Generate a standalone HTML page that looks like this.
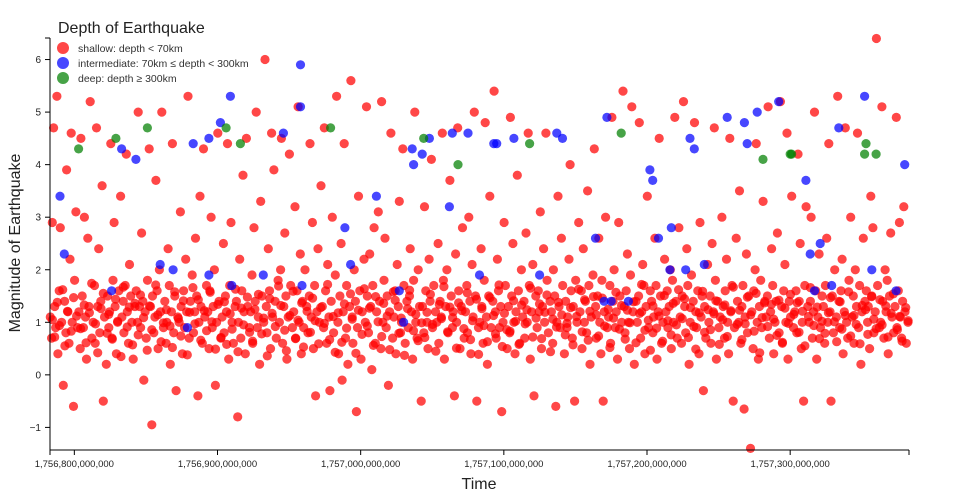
<!DOCTYPE html>
<html><head><meta charset="utf-8"><style>
body{margin:0;background:#fff;font-family:"Liberation Sans",sans-serif}
svg{display:block}
text{font-family:"Liberation Sans",sans-serif}
</style></head><body>
<svg id="chart" width="960" height="500" viewBox="0 0 960 500">
<g id="plot"></g>
<g id="axes"></g>
<text x="58" y="33" font-size="16" fill="#222">Depth of Earthquake</text>
<g><circle cx="63" cy="48" r="6" fill="#ff3333" fill-opacity="0.9"/><text x="78" y="52" font-size="10.5" fill="#333">shallow: depth &lt; 70km</text></g>
<g><circle cx="63" cy="63" r="6" fill="#3333ff" fill-opacity="0.9"/><text x="78" y="67" font-size="10.5" fill="#333">intermediate: 70km ≤ depth &lt; 300km</text></g>
<g><circle cx="63" cy="78" r="6" fill="#339933" fill-opacity="0.9"/><text x="78" y="82" font-size="10.5" fill="#333">deep: depth ≥ 300km</text></g>
<text x="479" y="489" font-size="16" text-anchor="middle" fill="#222">Time</text>
<text transform="translate(20,243) rotate(-90)" font-size="16" text-anchor="middle" fill="#222">Magnitude of Earthquake</text>
</svg>
<script>
// times are in units of 1e9 ms, offset from 1,756,000,000,000,000 ms
const xTicks = [800, 900, 1000, 1100, 1200, 1300];
const xTickLabels = ["1,756,800,000,000","1,756,900,000,000","1,757,000,000,000","1,757,100,000,000","1,757,200,000,000","1,757,300,000,000"];
const yTicks = [-1,0,1,2,3,4,5,6];
const shallowTime = [
783.2,784.1,784.6,785.5,786.3,787,787.8,788.5,789.4,790.2,791.1,792.3,
793.2,794.1,794.6,795.5,796.3,797,797.8,798.5,799.4,800.2,801.1,802.3,
803.2,804.1,804.6,805.5,806.3,807,807.8,808.5,809.4,810.2,811.1,812.3,
813.2,814.1,814.6,815.5,816.3,817,817.8,818.5,819.4,820.2,821.1,822.3,
823.2,824.1,824.6,825.5,826.3,827,827.8,828.5,829.4,830.2,831.1,832.3,
833.2,834.1,834.6,835.5,836.3,837,837.8,838.5,839.4,840.2,841.1,842.3,
843.2,844.1,844.6,845.5,846.3,847,847.8,848.5,849.4,850.2,851.1,852.3,
853.2,854.1,854.6,855.5,856.3,857,857.8,858.5,859.4,860.2,861.1,862.3,
863.2,864.1,864.6,865.5,866.3,867,867.8,868.5,869.4,870.2,871.1,872.3,
873.2,874.1,874.6,875.5,876.3,877,877.8,878.5,879.4,880.2,881.1,882.3,
883.2,884.1,884.6,885.5,886.3,887,887.8,888.5,889.4,890.2,891.1,892.3,
893.2,894.1,894.6,895.5,896.3,897,897.8,898.5,899.4,900.2,901.1,902.3,
903.2,904.1,904.6,905.5,906.3,907,907.8,908.5,909.4,910.2,911.1,912.3,
913.2,914.1,914.6,915.5,916.3,917,917.8,918.5,919.4,920.2,921.1,922.3,
923.2,924.1,924.6,925.5,926.3,927,927.8,928.5,929.4,930.2,931.1,932.3,
933.2,934.1,934.6,935.5,936.3,937,937.8,938.5,939.4,940.2,941.1,942.3,
943.2,944.1,944.6,945.5,946.3,947,947.8,948.5,949.4,950.2,951.1,952.3,
953.2,954.1,954.6,955.5,956.3,957,957.8,958.5,959.4,960.2,961.1,962.3,
963.2,964.1,964.6,965.5,966.3,967,967.8,968.5,969.4,970.2,971.1,972.3,
973.2,974.1,974.6,975.5,976.3,977,977.8,978.5,979.4,980.2,981.1,982.3,
983.2,984.1,984.6,985.5,986.3,987,987.8,988.5,989.4,990.2,991.1,992.3,
993.2,994.1,994.6,995.5,996.3,997,997.8,998.5,999.4,1000.2,1001.1,1002.3,
1003.2,1004.1,1004.6,1005.5,1006.3,1007,1007.8,1008.5,1009.4,1010.2,1011.1,1012.3,
1013.2,1014.1,1014.6,1015.5,1016.3,1017,1017.8,1018.5,1019.4,1020.2,1021.1,1022.3,
1023.2,1024.1,1024.6,1025.5,1026.3,1027,1027.8,1028.5,1029.4,1030.2,1031.1,1032.3,
1033.2,1034.1,1034.6,1035.5,1036.3,1037,1037.8,1038.5,1039.4,1040.2,1041.1,1042.3,
1043.2,1044.1,1044.6,1045.5,1046.3,1047,1047.8,1048.5,1049.4,1050.2,1051.1,1052.3,
1053.2,1054.1,1054.6,1055.5,1056.3,1057,1057.8,1058.5,1059.4,1060.2,1061.1,1062.3,
1063.2,1064.1,1064.6,1065.5,1066.3,1067,1067.8,1068.5,1069.4,1070.2,1071.1,1072.3,
1073.2,1074.1,1074.6,1075.5,1076.3,1077,1077.8,1078.5,1079.4,1080.2,1081.1,1082.3,
1083.2,1084.1,1084.6,1085.5,1086.3,1087,1087.8,1088.5,1089.4,1090.2,1091.1,1092.3,
1093.2,1094.1,1094.6,1095.5,1096.3,1097,1097.8,1098.5,1099.4,1100.2,1101.1,1102.3,
1103.2,1104.1,1104.6,1105.5,1106.3,1107,1107.8,1108.5,1109.4,1110.2,1111.1,1112.3,
1113.2,1114.1,1114.6,1115.5,1116.3,1117,1117.8,1118.5,1119.4,1120.2,1121.1,1122.3,
1123.2,1124.1,1124.6,1125.5,1126.3,1127,1127.8,1128.5,1129.4,1130.2,1131.1,1132.3,
1133.2,1134.1,1134.6,1135.5,1136.3,1137,1137.8,1138.5,1139.4,1140.2,1141.1,1142.3,
1143.2,1144.1,1144.6,1145.5,1146.3,1147,1147.8,1148.5,1149.4,1150.2,1151.1,1152.3,
1153.2,1154.1,1154.6,1155.5,1156.3,1157,1157.8,1158.5,1159.4,1160.2,1161.1,1162.3,
1163.2,1164.1,1164.6,1165.5,1166.3,1167,1167.8,1168.5,1169.4,1170.2,1171.1,1172.3,
1173.2,1174.1,1174.6,1175.5,1176.3,1177,1177.8,1178.5,1179.4,1180.2,1181.1,1182.3,
1183.2,1184.1,1184.6,1185.5,1186.3,1187,1187.8,1188.5,1189.4,1190.2,1191.1,1192.3,
1193.2,1194.1,1194.6,1195.5,1196.3,1197,1197.8,1198.5,1199.4,1200.2,1201.1,1202.3,
1203.2,1204.1,1204.6,1205.5,1206.3,1207,1207.8,1208.5,1209.4,1210.2,1211.1,1212.3,
1213.2,1214.1,1214.6,1215.5,1216.3,1217,1217.8,1218.5,1219.4,1220.2,1221.1,1222.3,
1223.2,1224.1,1224.6,1225.5,1226.3,1227,1227.8,1228.5,1229.4,1230.2,1231.1,1232.3,
1233.2,1234.1,1234.6,1235.5,1236.3,1237,1237.8,1238.5,1239.4,1240.2,1241.1,1242.3,
1243.2,1244.1,1244.6,1245.5,1246.3,1247,1247.8,1248.5,1249.4,1250.2,1251.1,1252.3,
1253.2,1254.1,1254.6,1255.5,1256.3,1257,1257.8,1258.5,1259.4,1260.2,1261.1,1262.3,
1263.2,1264.1,1264.6,1265.5,1266.3,1267,1267.8,1268.5,1269.4,1270.2,1271.1,1272.3,
1273.2,1274.1,1274.6,1275.5,1276.3,1277,1277.8,1278.5,1279.4,1280.2,1281.1,1282.3,
1283.2,1284.1,1284.6,1285.5,1286.3,1287,1287.8,1288.5,1289.4,1290.2,1291.1,1292.3,
1293.2,1294.1,1294.6,1295.5,1296.3,1297,1297.8,1298.5,1299.4,1300.2,1301.1,1302.3,
1303.2,1304.1,1304.6,1305.5,1306.3,1307,1307.8,1308.5,1309.4,1310.2,1311.1,1312.3,
1313.2,1314.1,1314.6,1315.5,1316.3,1317,1317.8,1318.5,1319.4,1320.2,1321.1,1322.3,
1323.2,1324.1,1324.6,1325.5,1326.3,1327,1327.8,1328.5,1329.4,1330.2,1331.1,1332.3,
1333.2,1334.1,1334.6,1335.5,1336.3,1337,1337.8,1338.5,1339.4,1340.2,1341.1,1342.3,
1343.2,1344.1,1344.6,1345.5,1346.3,1347,1347.8,1348.5,1349.4,1350.2,1351.1,1352.3,
1353.2,1354.1,1354.6,1355.5,1356.3,1357,1357.8,1358.5,1359.4,1360.2,1361.1,1362.3,
1363.2,1364.1,1364.6,1365.5,1366.3,1367,1367.8,1368.5,1369.4,1370.2,1371.1,1372.3,
1373.2,1374.1,1374.6,1375.5,1376.3,1377,1377.8,1378.5,1379.4,1380.2,1381.1,1382.3,
784.7,786.3,788.1,789.6,791.9,793.4,795.2,797.8,799.5,801.6,
804.4,806.9,808.2,810.5,812.1,814.8,816.3,818.6,820.2,822.9,
824.1,826.5,828.8,830.3,832.6,834.2,836.9,838.4,840.7,842.3,
844.6,846.2,848.4,850.9,852.5,854.1,856.8,858.3,860.6,862.2,
864.3,866.8,868.5,870.1,872.7,874.4,876.2,878.9,880.5,882.8,
884.2,886.6,888.3,890.8,892.4,894.9,896.1,898.6,900.3,902.5,
904.8,906.4,908.9,910.2,912.6,914.3,916.7,918.2,920.9,922.4,
924.5,926.1,928.6,930.9,932.3,934.8,936.5,938.1,940.4,942.7,
944.2,946.9,948.1,950.6,952.8,954.5,956.2,958.8,960.1,962.6,
964.9,966.4,968.2,970.7,972.1,974.6,976.9,978.3,980.8,982.2,
984.3,986.8,988.6,990.2,992.9,994.1,996.7,998.4,1000.9,1002.5,
1004.6,1006.2,1008.9,1010.4,1012.2,1014.7,1016.1,1018.5,1020.3,1022.8,
1024.1,1026.7,1028.3,1030.6,1032.8,1034.2,1036.9,1038.5,1040.1,1042.6,
1044.8,1046.3,1048.7,1050.2,1052.5,1054.9,1056.4,1058.1,1060.7,1062.3,
1064.2,1066.9,1068.4,1070.8,1072.1,1074.5,1076.7,1078.2,1080.9,1082.4,
1084.7,1086.1,1088.5,1090.3,1092.8,1094.2,1096.6,1098.9,1100.4,1102.1,
1104.3,1106.8,1108.2,1110.6,1112.4,1114.9,1116.1,1118.7,1120.2,1122.5,
1124.9,1126.4,1128.7,1130.1,1132.6,1134.3,1136.8,1138.2,1140.5,1142.9,
1144.1,1146.6,1148.3,1150.8,1152.2,1154.7,1156.4,1158.9,1160.1,1162.6,
1164.5,1166.2,1168.8,1170.4,1172.9,1174.1,1176.6,1178.3,1180.7,1182.2,
1184.8,1186.3,1188.1,1190.6,1192.3,1194.8,1196.2,1198.5,1200.9,1202.4,
1204.2,1206.7,1208.4,1210.9,1212.1,1214.6,1216.8,1218.3,1220.5,1222.1,
1224.6,1226.2,1228.9,1230.4,1232.7,1234.1,1236.5,1238.8,1240.2,1242.7,
1244.3,1246.8,1248.1,1250.5,1252.9,1254.4,1256.1,1258.6,1260.3,1262.9,
1264.7,1266.3,1268.6,1270.1,1272.4,1274.8,1276.2,1278.7,1280.4,1282.1,
1284.2,1286.9,1288.4,1290.7,1292.1,1294.6,1296.3,1298.8,1300.2,1302.6,
1304.9,1306.2,1308.6,1310.3,1312.8,1314.1,1316.5,1318.9,1320.4,1322.2,
1324.3,1326.7,1328.2,1330.8,1332.5,1334.9,1336.1,1338.6,1340.8,1342.3,
1344.6,1346.1,1348.8,1350.3,1352.6,1354.2,1356.9,1358.4,1360.1,1362.7,
1364.2,1366.8,1368.3,1370.6,1372.1,1374.9,1376.4,1378.2,1380.7,1382.4
];
const shallowMag = [
1.1,0.7,2.9,4.7,1.3,0.9,5.3,0.4,1.6,2.8,1.0,-0.2,
1.4,0.8,3.9,1.2,0.6,2.2,4.6,1.0,-0.6,1.8,3.1,0.9,
1.2,0.5,4.5,1.5,0.9,3.0,1.1,0.3,2.6,1.3,5.2,0.7,
1.0,1.7,0.6,4.7,1.3,2.4,0.8,1.4,3.6,-0.5,1.1,0.2,
1.5,0.9,1.2,4.4,0.7,1.8,2.9,1.3,0.4,1.0,1.6,3.4,
1.1,1.4,0.8,1.7,4.2,1.2,0.6,2.1,1.5,1.0,0.3,1.3,
1.6,1.0,5.0,1.3,0.9,2.7,1.4,-0.1,1.2,0.7,1.8,4.3,
1.3,-0.95,1.5,0.8,1.1,3.7,1.6,0.5,2.0,1.2,5.0,0.9,
1.4,0.6,1.0,2.4,1.7,0.2,1.2,4.4,0.8,1.5,-0.3,1.1,
1.0,3.1,1.3,0.4,1.6,0.9,2.2,1.2,5.3,0.7,1.4,1.9,
0.8,1.2,2.6,1.5,-0.4,1.0,3.4,1.3,0.6,4.3,1.1,1.7,
1.2,0.5,1.6,3.0,0.9,1.3,2.0,-0.2,1.0,4.6,1.4,0.7,
1.1,2.5,0.8,1.5,1.2,4.4,0.3,1.7,2.9,1.0,0.6,1.3,
1.4,-0.8,1.0,2.2,0.7,1.6,3.8,1.2,0.4,4.5,1.3,0.9,
1.2,1.9,0.6,2.8,1.4,5.0,0.9,1.1,0.2,3.3,1.5,1.0,
6.0,1.3,0.8,2.4,1.6,0.5,4.6,1.1,3.9,1.4,0.7,1.8,
1.0,2.0,4.5,0.6,1.3,2.7,1.5,0.3,1.1,4.2,1.7,0.9,
1.2,3.2,0.7,1.6,5.1,1.0,2.3,0.4,1.4,0.9,2.0,1.3,
0.8,1.5,4.4,1.1,2.9,0.5,1.7,-0.4,1.2,2.4,1.0,3.6,
1.3,0.9,4.7,1.6,0.6,2.1,1.1,-0.3,1.4,3.0,0.8,1.9,
5.3,1.0,0.4,1.5,2.5,-0.1,1.2,4.4,0.7,1.7,0.2,1.3,
5.6,1.1,0.6,2.0,1.4,-0.7,0.9,3.4,1.6,0.3,1.2,2.2,
1.0,5.1,1.5,0.8,2.3,1.3,0.1,1.7,2.8,0.6,1.2,3.1,
1.4,0.5,5.2,1.0,1.8,2.6,0.9,1.5,-0.2,1.2,4.6,0.7,
1.1,1.6,0.4,2.1,1.3,3.3,0.8,1.0,4.3,1.7,0.6,1.4,
0.9,1.5,2.4,1.2,0.3,1.8,5.0,1.0,0.7,2.0,1.3,-0.5,
1.3,0.8,3.2,1.6,1.0,0.5,2.2,1.4,4.1,0.9,1.7,1.2,
1.0,2.5,0.6,1.4,1.1,4.6,1.8,0.3,1.3,2.0,0.8,3.7,
1.5,0.9,1.2,-0.4,2.3,1.0,4.7,1.6,0.5,1.3,2.8,0.7,
1.2,1.7,0.8,3.0,1.4,0.4,2.1,1.1,5.0,1.5,-0.5,0.9,
1.0,2.4,1.3,0.6,1.8,4.8,1.1,0.2,1.5,3.4,0.9,1.4,
5.4,1.2,0.7,2.2,1.6,0.9,1.3,-0.7,1.0,2.9,1.7,0.5,
1.3,0.8,4.9,1.5,2.5,1.0,0.4,1.2,3.8,1.6,0.6,2.0,
1.1,1.4,0.7,2.7,1.0,4.6,1.7,0.3,1.2,2.1,-0.4,1.5,
0.9,1.6,1.2,3.1,0.5,1.3,2.4,1.0,4.6,1.8,0.8,1.4,
1.2,0.6,2.0,1.5,-0.6,1.0,3.4,1.3,0.9,2.6,1.7,0.4,
1.4,0.9,1.1,2.2,4.0,1.6,0.7,1.3,-0.5,1.8,1.0,2.9,
1.2,1.6,0.5,2.4,1.0,1.4,0.8,3.5,1.7,0.2,1.1,1.9,
4.3,1.3,0.7,1.5,2.6,1.0,0.4,1.8,-0.5,1.2,3.0,0.9,
1.1,1.7,0.6,4.9,1.4,2.0,0.9,1.2,0.3,2.9,1.5,1.0,
5.4,1.3,0.8,1.6,2.3,1.0,0.5,1.9,5.1,1.2,0.2,1.4,
1.0,1.5,4.8,0.7,1.2,2.1,1.7,0.4,1.3,3.4,0.9,1.6,
1.4,0.8,1.1,2.6,1.7,0.3,1.2,4.5,1.5,0.6,1.0,2.2,
1.2,1.6,0.9,1.3,2.0,0.5,1.8,1.0,4.9,1.4,0.7,2.8,
1.1,0.6,1.5,5.2,1.3,0.8,2.4,1.7,0.2,1.0,1.9,1.4,
4.8,1.2,0.9,1.6,0.4,2.9,1.1,1.5,-0.3,1.3,0.7,2.1,
1.0,1.5,0.6,2.5,1.2,4.7,1.8,0.3,1.4,0.9,1.1,3.0,
1.3,0.7,1.6,2.2,1.0,0.4,4.5,1.2,1.7,-0.5,0.9,2.6,
1.4,1.0,3.5,0.6,1.3,1.7,-0.65,1.1,2.3,0.8,1.5,-1.4,
1.2,0.5,1.6,2.0,4.4,1.0,0.3,1.3,1.8,0.9,3.3,1.4,
1.1,1.5,5.1,0.7,1.2,2.4,1.7,0.4,1.0,1.4,2.7,0.8,
5.2,1.3,0.6,1.6,2.1,1.0,4.6,0.3,1.4,1.1,3.4,0.9,
1.2,1.6,0.8,4.2,1.4,2.5,0.5,1.0,-0.5,1.7,3.2,1.3,
1.0,1.4,3.0,0.7,1.2,5.0,1.6,0.3,1.1,2.3,0.9,1.5,
1.3,0.6,1.7,2.6,1.0,4.4,1.2,-0.5,1.5,0.8,2.0,1.1,
5.3,1.4,0.9,1.6,2.2,0.4,1.2,4.7,1.0,0.7,1.8,3.0,
1.1,1.5,0.6,2.0,1.3,4.6,0.9,1.7,0.2,1.2,2.6,1.4,
1.6,1.0,1.3,0.5,3.4,1.5,2.8,0.8,1.2,6.4,1.7,0.9,
1.0,5.1,1.4,0.7,2.0,1.2,1.8,0.4,1.5,2.7,1.1,0.8,
1.3,4.9,0.9,1.6,2.9,1.1,0.7,1.4,3.2,1.2,0.6,1.0,
1.05,0.72,1.38,0.94,1.62,0.55,1.21,0.83,1.47,1.12,
0.88,1.33,0.61,1.18,1.74,0.97,0.42,1.26,1.55,0.79,
1.15,0.68,1.44,1.02,0.35,1.67,0.91,1.29,0.57,1.36,
0.76,1.52,1.09,0.47,1.31,0.86,1.71,1.14,0.63,0.99,
1.24,0.93,0.52,1.58,1.07,0.74,1.41,0.38,1.19,1.66,
0.97,1.43,0.66,1.22,0.84,1.57,1.01,0.49,1.34,0.71,
1.39,0.58,1.16,0.87,1.63,0.44,1.27,0.95,1.48,0.81,
0.64,1.25,1.53,0.78,1.08,0.36,1.45,1.17,0.92,1.69,
1.32,0.85,0.46,1.13,1.59,0.69,1.04,1.37,0.53,1.21,
0.81,1.46,1.03,0.59,1.28,0.98,1.72,0.67,1.11,0.43,
1.18,0.62,1.35,0.89,1.54,1.06,0.41,1.23,0.77,1.64,
0.93,1.27,0.56,1.49,1.01,0.73,1.36,1.12,0.48,1.58,
1.42,0.79,1.08,0.37,1.26,1.61,0.84,1.15,0.65,0.99,
0.71,1.19,1.53,0.96,0.45,1.34,1.07,1.68,0.82,1.29,
1.09,0.51,1.37,1.22,0.88,1.56,0.67,1.03,1.44,0.39,
1.26,0.94,0.63,1.47,1.13,0.78,1.71,0.54,1.17,0.86,
0.83,1.41,1.02,0.58,1.33,0.97,1.24,1.65,0.72,1.08,
1.35,0.69,1.19,1.52,0.44,1.06,0.91,1.38,1.14,0.76,
0.98,1.28,0.57,1.11,1.63,0.82,1.43,0.66,1.21,1.49,
1.14,0.74,1.46,0.93,1.25,0.52,1.08,1.57,0.87,1.32,
0.68,1.23,0.99,1.39,0.61,1.17,1.72,0.85,1.04,0.47,
1.31,0.89,1.12,0.64,1.51,1.03,0.76,1.36,0.95,1.62,
1.07,1.45,0.71,1.28,0.92,0.49,1.18,1.59,0.81,1.24,
0.86,1.16,1.41,0.58,1.05,1.33,0.73,1.22,1.67,0.96,
1.23,0.67,0.97,1.48,1.14,0.83,1.55,0.42,1.09,1.37,
0.92,1.34,1.06,0.75,1.42,0.62,1.27,0.98,1.53,1.15,
1.37,0.81,1.21,0.55,1.11,1.66,0.94,1.29,0.69,1.02,
0.79,1.18,1.47,1.01,0.63,1.39,0.87,1.13,1.58,0.74,
1.13,0.96,0.59,1.32,1.24,0.77,1.49,1.06,0.88,1.43,
0.95,1.31,0.72,1.17,1.54,0.86,1.11,0.64,1.28,1.03
];
const intermediateTime = [790,793,826,833,843,860,869,879,883,894,894,902,909,910,932,946,958,958,959,989,993,1011,1027,1030,1036,1037,1043,1048,1062,1064,1075,1083,1093,1095,1107,1125,1137,1141,1164,1170,1172,1175,1187,1202,1204,1208,1217,1216,1227,1230,1233,1240,1256,1268,1270,1277,1292,1311,1314,1317,1321,1329,1334,1352,1357,1374,1380];
const intermediateMag = [3.4,2.3,1.6,4.3,4.1,2.1,2.0,0.9,4.4,1.9,4.5,4.8,5.3,1.7,1.9,4.6,5.9,5.1,1.7,2.8,2.1,3.4,1.6,1.0,4.3,4.0,4.2,4.5,3.2,4.6,4.6,1.9,4.4,4.4,4.5,1.9,4.6,4.5,2.6,1.4,4.9,1.4,1.4,3.9,3.7,2.6,2.8,2.0,2.0,4.5,4.3,2.1,4.9,4.8,4.4,5.0,5.2,3.7,2.3,1.6,2.5,1.7,4.7,5.3,2.0,1.6,4.0];
const deepTime = [803,829,851,906,916,979,1044,1068,1118,1182,1281,1300,1301,1353,1352,1360];
const deepMag = [4.3,4.5,4.7,4.7,4.4,4.7,4.5,4.0,4.4,4.6,4.1,4.2,4.2,4.4,4.2,4.2];

const NS = "http://www.w3.org/2000/svg";
const X0 = 50, X1 = 909, Y0 = 450, Y1 = 38;
const tMin = 783, tMax = 1383, mMin = -1.43, mMax = 6.41;
function xScale(t){ return X0 + (t - tMin) / (tMax - tMin) * (X1 - X0); }
function yScale(m){ return Y0 - (m - mMin) / (mMax - mMin) * (Y0 - Y1); }
const plot = document.getElementById('plot');
const axes = document.getElementById('axes');

function drawSeries(times, mags, color, name){
  const g = document.createElementNS(NS, 'g');
  
  
  for (let i = 0; i < times.length; i++){
    const c = document.createElementNS(NS, 'circle');
    c.setAttribute('cx', xScale(times[i]).toFixed(1));
    c.setAttribute('cy', yScale(mags[i]).toFixed(1));
    c.setAttribute('r', 4.6);
    c.setAttribute('fill', color);
    c.setAttribute('fill-opacity', '0.72');
    
    
    g.appendChild(c);
  }
  plot.appendChild(g);
}
drawSeries(shallowTime, shallowMag, '#ff0000', 'shallow');
drawSeries(intermediateTime, intermediateMag, '#0000ff', 'intermediate');
drawSeries(deepTime, deepMag, '#008000', 'deep');

function line(x1,y1,x2,y2,name){
  const l = document.createElementNS(NS, 'line');
  l.setAttribute('x1', x1); l.setAttribute('y1', y1);
  l.setAttribute('x2', x2); l.setAttribute('y2', y2);
  l.setAttribute('stroke', '#000'); l.setAttribute('stroke-width', '1');
  
  
  axes.appendChild(l);
}
line(X0, Y1, X0, Y0, 'y-axis-line');
line(X0, Y0, X1, Y0, 'x-axis-line');
line(X0-5, Y1, X0, Y1, 'y-axis-end-tick');
line(X0, Y0, X0, Y0+5, 'x-axis-start-tick');
line(X1, Y0, X1, Y0+5, 'x-axis-end-tick');

yTicks.forEach(v => {
  const y = yScale(v);
  line(X0-5, y, X0, y, 'y-tick');
  const t = document.createElementNS(NS, 'text');
  t.setAttribute('x', X0-9); t.setAttribute('y', y+3.5);
  t.setAttribute('text-anchor', 'end'); t.setAttribute('font-size', '10'); t.setAttribute('fill', '#222');
  
  
  t.textContent = v < 0 ? '\u2212' + Math.abs(v) : String(v);
  axes.appendChild(t);
});
xTicks.forEach((v, i) => {
  const x = xScale(v);
  line(x, Y0, x, Y0+5, 'x-tick');
  const t = document.createElementNS(NS, 'text');
  t.setAttribute('x', x); t.setAttribute('y', Y0+17);
  t.setAttribute('text-anchor', 'middle'); t.setAttribute('font-size', '9.5'); t.setAttribute('fill', '#222');
  
  
  t.textContent = xTickLabels[i];
  axes.appendChild(t);
});
</script>
</body></html>
